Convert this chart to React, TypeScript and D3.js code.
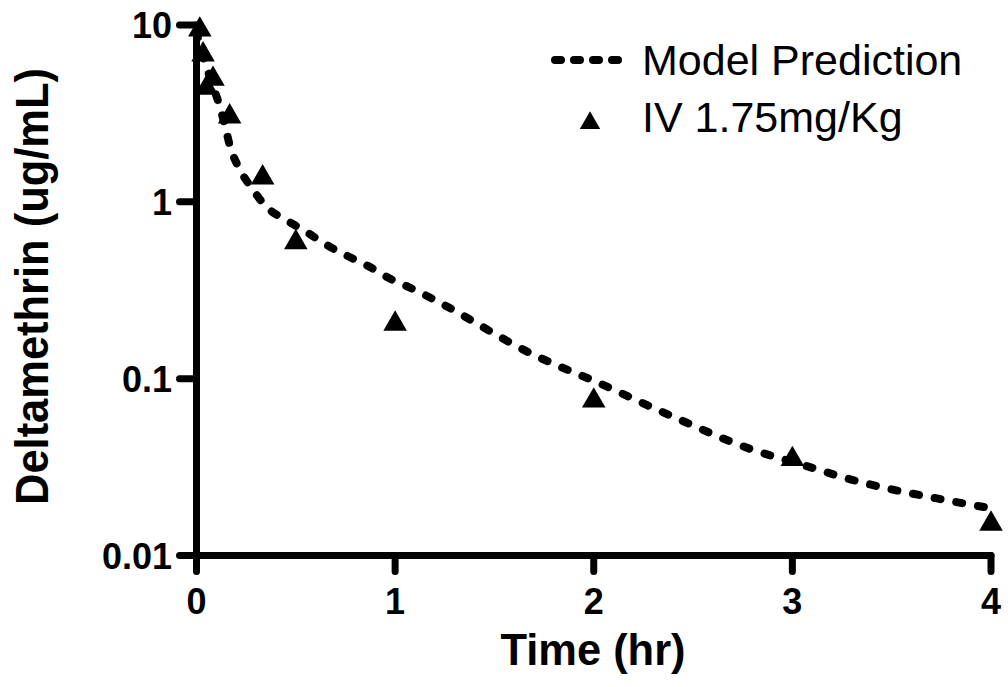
import React from 'react';
import * as d3 from 'd3';

// observed concentrations (IV 1.75mg/Kg)
const obsTime = [0.0167, 0.033, 0.05, 0.083, 0.167, 0.333, 0.5, 1, 2, 3, 4];
const obsConc = [9.4, 6.8, 4.4, 4.95, 3.03, 1.37, 0.59, 0.204, 0.075, 0.035, 0.0151];

// model prediction
const modelTime = [0, 0.02, 0.05, 0.083, 0.11, 0.14, 0.17, 0.22, 0.28, 0.35, 0.45, 0.55, 0.65, 0.76, 0.87, 0.97, 1.08, 1.18, 1.7, 2.03, 2.38, 2.8, 3.05, 3.3, 3.76, 4.0];
const modelConc = [9.2, 7.4, 5.8, 4.5, 3.67, 2.79, 2.04, 1.51, 1.19, 0.94, 0.79, 0.68, 0.575, 0.494, 0.43, 0.37, 0.325, 0.286, 0.136, 0.094, 0.0623, 0.0396, 0.0326, 0.0268, 0.0207, 0.0185];

const xTicks = [0, 1, 2, 3, 4];
const yTicks = [10, 1, 0.1, 0.01];
const yTickLabels = ['10', '1', '0.1', '0.01'];

const W = 1008;
const H = 687;
const font = 'Liberation Sans, Arial, Helvetica, sans-serif';

const App = () => {
    const x = d3.scaleLinear().domain([0, 4]).range([196.5, 991]);
    const y = d3.scaleLog().domain([0.01, 10]).range([555.5, 25]);

    const line = d3.line<number>()
        .x((d, i) => x(modelTime[i]))
        .y(d => y(d))
        .curve(d3.curveMonotoneX);

    const tri = d3.symbol().type(d3.symbolTriangle).size(240)();
    const triSmall = d3.symbol().type(d3.symbolTriangle).size(180)();

    return (
        <div style={{ position: 'absolute', left: 0, top: 0 }}>
            <svg width={W} height={H} style={{ display: 'block', background: '#fff' }}>
                {/* model curve */}
                <path d={line(modelConc) || ''} fill="none" stroke="#000" strokeWidth={8}
                    strokeDasharray="6 16" strokeLinecap="round" />

                {/* observations */}
                {obsConc.map((v, i) => (
                    <path key={i} d={tri || ''} transform={`translate(${x(obsTime[i])},${y(v)})`} fill="#000" />
                ))}

                {/* axes */}
                <g stroke="#000" strokeWidth={7} strokeLinecap="round">
                    <line x1={x(0)} x2={x(0)} y1={y(10)} y2={y(0.01)} />
                    <line x1={x(0)} x2={x(4)} y1={y(0.01)} y2={y(0.01)} />
                    {yTicks.map(t => (
                        <line key={t} x1={x(0) - 17} x2={x(0)} y1={y(t)} y2={y(t)} />
                    ))}
                    {xTicks.map(t => (
                        <line key={t} x1={x(t)} x2={x(t)} y1={y(0.01)} y2={y(0.01) + 16} />
                    ))}
                </g>

                <g fontFamily={font} fontWeight="bold" fontSize={36} fill="#000">
                    {yTicks.map((t, i) => (
                        <text key={t} x={172} y={y(t) + 13} textAnchor="end">{yTickLabels[i]}</text>
                    ))}
                    {xTicks.map(t => (
                        <text key={t} x={x(t)} y={614} textAnchor="middle">{t}</text>
                    ))}
                </g>

                <text x={593} y={665} textAnchor="middle" fontFamily={font} fontWeight="bold" fontSize={44}
                    textLength={185} lengthAdjust="spacingAndGlyphs">Time (hr)</text>
                <text transform="translate(48,286.5) rotate(-90)" textAnchor="middle" fontFamily={font}
                    fontWeight="bold" fontSize={47} textLength={437} lengthAdjust="spacingAndGlyphs">Deltamethrin (ug/mL)</text>

                {/* legend */}
                <line x1={555} x2={628} y1={60} y2={60} stroke="#000" strokeWidth={8}
                    strokeDasharray="6 13" strokeLinecap="round" />
                <text x={642} y={75} fontFamily={font} fontSize={43}>Model Prediction</text>
                <path d={triSmall || ''} transform="translate(590,123)" fill="#000" />
                <text x={642} y={132} fontFamily={font} fontSize={43}>IV 1.75mg/Kg</text>
            </svg>
        </div>
    );
};

export default App;
